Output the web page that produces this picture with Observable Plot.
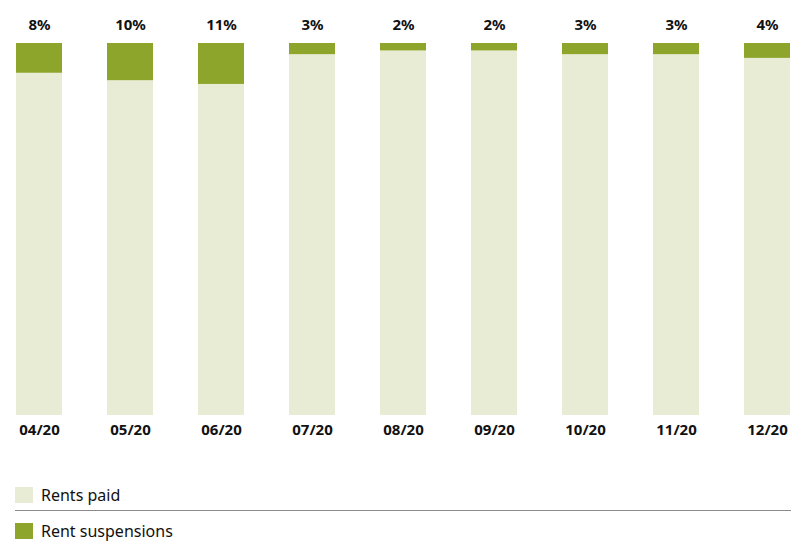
<!DOCTYPE html>
<html>
<head>
<meta charset="utf-8">
<script src="https://cdn.jsdelivr.net/npm/d3@7"></script>
<script src="https://cdn.jsdelivr.net/npm/@observablehq/plot@0.6"></script>
<style>
  html, body { margin: 0; padding: 0; background: #fff; }
  body { width: 791px; font-family: "Noto Sans", sans-serif; }
  #legend { position: relative; height: 92px; }
  .item { position: absolute; left: 15px; display: flex; align-items: center; font-size: 16px; line-height: 18px; color: #111; }
  .sw { width: 18px; height: 16px; margin-right: 8px; }
  .rule { position: absolute; left: 15px; right: 0; top: 60px; border-top: 1.5px solid #8a8a8a; }
</style>
</head>
<body>
<div id="chart"></div>
<div id="legend">
  <div class="item" style="top:36px"><div class="sw" style="background:#e8ecd4"></div><span>Rents paid</span></div>
  <div class="rule"></div>
  <div class="item" style="top:72px"><div class="sw" style="background:#8ca52a"></div><span>Rent suspensions</span></div>
</div>
<script>
const months = ["04/20","05/20","06/20","07/20","08/20","09/20","10/20","11/20","12/20"];
const suspensions = [8, 10, 11, 3, 2, 2, 3, 3, 4];
const seriesNames = ["Rents paid", "Rent suspensions"];
const colors = ["#e8ecd4", "#8ca52a"];

const rows = [];
months.forEach((m, i) => {
  rows.push({month: m, series: seriesNames[0], value: 100 - suspensions[i]});
  rows.push({month: m, series: seriesNames[1], value: suspensions[i]});
});
const labels = months.map((m, i) => ({month: m, pct: suspensions[i], total: 100}));

const chart = Plot.plot({
  width: 791,
  height: 450,
  marginTop: 43,
  marginBottom: 35,
  marginLeft: 15,
  marginRight: 0,
  style: {fontFamily: "Noto Sans, sans-serif", background: "#fff"},
  x: {domain: months, paddingInner: 0.496, paddingOuter: 0, label: null},
  y: {domain: [0, 100], axis: null},
  color: {domain: seriesNames, range: colors},
  marks: [
    Plot.barY(rows, Plot.stackY({x: "month", y: "value", fill: "series", order: seriesNames})),
    Plot.text(labels, {x: "month", y: "total", text: d => d.pct + "%", dy: -14, lineAnchor: "bottom", fontSize: 15, fontWeight: "bold", fill: "#111"}),
    Plot.axisX({tickSize: 0, tickPadding: 9, fontSize: 15, fontWeight: "bold", color: "#111", label: null})
  ]
});
document.getElementById("chart").appendChild(chart);
</script>
</body>
</html>
